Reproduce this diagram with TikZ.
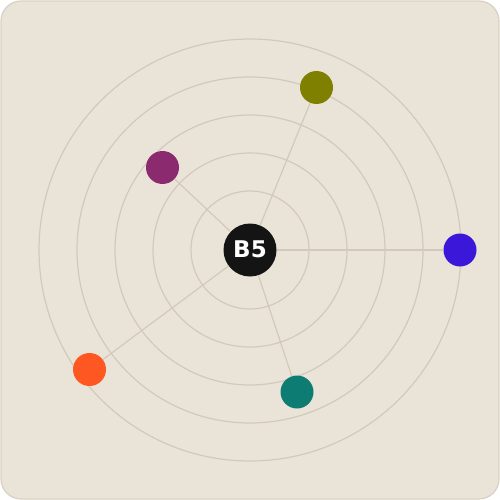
\documentclass[tikz,border=0pt]{standalone}
\usepackage{fontspec}
\setsansfont{DejaVu Sans}
\definecolor{paper}{HTML}{EAE4D8}
\definecolor{paperEdge}{HTML}{D8D1C3}
\definecolor{ringGray}{HTML}{D1CABB}
\definecolor{hubBlack}{HTML}{141414}
\definecolor{oliveDot}{HTML}{808000}
\definecolor{plumDot}{HTML}{8B2A6F}
\definecolor{blueDot}{HTML}{3A17D9}
\definecolor{orangeDot}{HTML}{FF5722}
\definecolor{tealDot}{HTML}{0D7C73}
\tikzset{%
    ring/.style = {draw=ringGray, line width=1.2pt},
    spoke/.style = {draw=ringGray, line width=1.2pt},
    hub/.style = {
        circle, fill=hubBlack, minimum size=53pt, inner sep=0pt,
        text=white, font=\sffamily\bfseries\fontsize{23}{23}\selectfont
    },
    planet/.style = {circle, minimum size=33pt, inner sep=0pt},
}

\begin{document}
\begin{tikzpicture}[x=1pt, y=-1pt]
    % Background
    \useasboundingbox (0,0) rectangle (500,500);
    \draw[fill=paper, draw=paperEdge, line width=1.2pt, rounded corners=20pt]
        (1,1) rectangle (499,499);
    % Rings
    \foreach \r in {59,97,135,173,211}
        \draw[ring] (250,250) circle[radius=\r];
    % Nodes position
    \node (hub)    [hub]                        at (250,250)
        {\raisebox{1.5pt}{B5}\hspace{9pt}};
    \node (olive)  [planet, fill=oliveDot]      at (316.5,87.5) {};
    \node (plum)   [planet, fill=plumDot]       at (162.5,167.5) {};
    \node (blue)   [planet, fill=blueDot]       at (460,250) {};
    \node (orange) [planet, fill=orangeDot]     at (89.5,369.5) {};
    \node (teal)   [planet, fill=tealDot]       at (297,392) {};
    % Spokes
    \foreach \p in {olive,plum,blue,orange,teal}
        \draw[spoke] (hub) -- (\p);
\end{tikzpicture}
\end{document}
